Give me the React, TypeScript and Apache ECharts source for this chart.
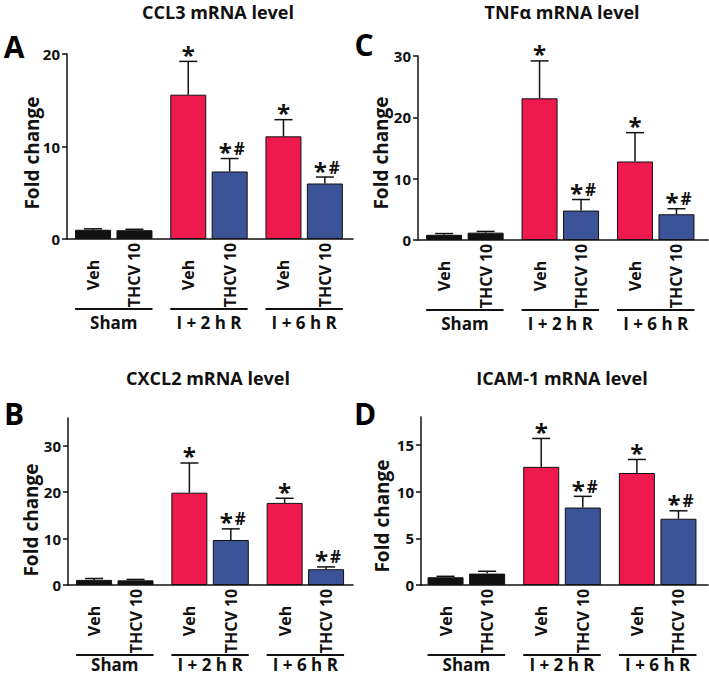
import React, { useEffect, useRef } from "react";
import * as echarts from "echarts";

const categories = ["Veh", "THCV 10", "Veh", "THCV 10", "Veh", "THCV 10"];
const groups = ["Sham", "I + 2 h R", "I + 6 h R"];
const xPos = [0, 1, 2.3, 3.3, 4.6, 5.6];
const marks = ["", "", "*", "*#", "*", "*#"];

const ccl3Mean = [1.0, 0.95, 15.6, 7.3, 11.1, 6.0];
const ccl3Err = [1.1, 1.05, 19.2, 8.7, 12.9, 6.7];
const tnfMean = [0.85, 1.2, 23.1, 4.8, 12.8, 4.2];
const tnfErr = [1.05, 1.4, 29.2, 6.6, 17.5, 5.1];
const cxcl2Mean = [1.1, 1.0, 19.9, 9.7, 17.7, 3.4];
const cxcl2Err = [1.4, 1.2, 26.3, 12.1, 18.7, 3.9];
const icamMean = [0.83, 1.22, 12.66, 8.3, 12.0, 7.1];
const icamErr = [0.93, 1.47, 15.7, 9.5, 13.45, 7.95];

const ccl3Ticks = [0, 10, 20];
const tnfTicks = [0, 10, 20, 30];
const cxcl2Ticks = [0, 10, 20, 30];
const icamTicks = [0, 5, 10, 15];

const barColors = ["#111111", "#111111", "#EE1A4E", "#3C5398", "#EE1A4E", "#3C5398"];
const FONT = "Open Sans";

const panels = [
  { letter: "A", title: "CCL3 mRNA level", mean: ccl3Mean, err: ccl3Err, ticks: ccl3Ticks, max: 20,
    grid: { left: 67, top: 54, width: 286, height: 185 }, xMin: -0.63, xMax: 6.28, groupDy: 83,
    titlePos: [218, 12], letterPos: [14, 46], namePos: [32, 153] },
  { letter: "C", title: "TNFα mRNA level", mean: tnfMean, err: tnfErr, ticks: tnfTicks, max: 30,
    grid: { left: 418, top: 56, width: 290, height: 184 }, xMin: -0.63, xMax: 6.36, groupDy: 83,
    titlePos: [562, 12], letterPos: [364, 44], namePos: [381, 153] },
  { letter: "B", title: "CXCL2 mRNA level", mean: cxcl2Mean, err: cxcl2Err, ticks: cxcl2Ticks, max: 36,
    grid: { left: 68, top: 418, width: 285, height: 167 }, xMin: -0.63, xMax: 6.25, groupDy: 79,
    titlePos: [208, 378], letterPos: [14, 413], namePos: [31, 520] },
  { letter: "D", title: "ICAM-1 mRNA level", mean: icamMean, err: icamErr, ticks: icamTicks, max: 18,
    grid: { left: 421, top: 417, width: 287, height: 168 }, xMin: -0.59, xMax: 6.31, groupDy: 79,
    titlePos: [562, 378], letterPos: [365, 413], namePos: [382, 516] },
];

export default function App() {
  const ref = useRef<HTMLDivElement>(null);
  useEffect(() => {
    document.body.style.margin = "0";
    const chart = echarts.init(ref.current!, null, { renderer: "svg" });
    const grids: any[] = [];
    const xAxes: any[] = [];
    const yAxes: any[] = [];
    const series: any[] = [];
    const graphics: any[] = [];

    panels.forEach((p, i) => {
      grids.push({ ...p.grid });
      xAxes.push({
        type: "value", gridIndex: i, min: p.xMin, max: p.xMax,
        axisLine: { show: true, onZero: false, lineStyle: { color: "#111", width: 1.6 } },
        axisTick: { show: false }, axisLabel: { show: false }, splitLine: { show: false },
      });
      yAxes.push({
        type: "value", gridIndex: i, min: 0, max: p.max,
        axisLine: { show: true, onZero: false, lineStyle: { color: "#111", width: 1.5 } },
        axisTick: { show: true, length: 5, customValues: p.ticks, lineStyle: { color: "#111", width: 1.5 } },
        axisLabel: { customValues: p.ticks, color: "#111", fontFamily: FONT, fontWeight: "bold", fontSize: 15, margin: 7 },
        splitLine: { show: false },
      });
      series.push({
        type: "bar", xAxisIndex: i, yAxisIndex: i, barWidth: 36,
        data: p.mean.map((v, k) => ({
          value: [xPos[k], v],
          itemStyle: { color: barColors[k], borderColor: "#111", borderWidth: 1 },
        })),
      });
      series.push({
        type: "custom", xAxisIndex: i, yAxisIndex: i, z: 5,
        data: p.mean.map((v, k) => [xPos[k], v, p.err[k], k]),
        renderItem: (params: any, api: any) => {
          const a = api.coord([api.value(0), api.value(1)]);
          const b = api.coord([api.value(0), api.value(2)]);
          const k = api.value(3);
          const children: any[] = [
            { type: "line", shape: { x1: a[0], y1: a[1], x2: b[0], y2: b[1] }, style: { stroke: "#111", lineWidth: 1.5 } },
            { type: "line", shape: { x1: b[0] - 9, y1: b[1], x2: b[0] + 9, y2: b[1] }, style: { stroke: "#111", lineWidth: 1.5 } },
          ];
          const m = marks[k];
          if (m) {
            const twin = m.length > 1;
            children.push({
              type: "text", x: b[0] + (twin ? -4.5 : 0), y: b[1] - 7,
              style: { text: m[0], fill: "#111", font: `bold 24px '${FONT}'`, align: "center", verticalAlign: "middle" },
            });
            if (twin) {
              children.push({
                type: "text", x: b[0] + 9.5, y: b[1] - 10,
                style: { text: m[1], fill: "#111", font: `bold 17px '${FONT}'`, align: "center", verticalAlign: "middle" },
              });
            }
          }
          return { type: "group", children };
        },
      });
      series.push({
        type: "custom", xAxisIndex: i, yAxisIndex: i, z: 5,
        data: xPos.map((x, k) => [x, k]),
        renderItem: (params: any, api: any) => {
          const a = api.coord([api.value(0), 0]);
          const k = api.value(1);
          return {
            type: "text", x: a[0], y: a[1] + 36, rotation: Math.PI / 2,
            style: { text: categories[k], fill: "#111", font: `bold 16px '${FONT}'`, align: "center", verticalAlign: "middle" },
          };
        },
      });
      series.push({
        type: "custom", xAxisIndex: i, yAxisIndex: i, z: 5,
        data: groups.map((g, k) => [xPos[2 * k], xPos[2 * k + 1], k]),
        renderItem: (params: any, api: any) => {
          const a = api.coord([api.value(0), 0]);
          const b = api.coord([api.value(1), 0]);
          const k = api.value(2);
          return {
            type: "group",
            children: [
              { type: "line", shape: { x1: a[0] - 18, y1: a[1] + 70, x2: b[0] + 18, y2: b[1] + 70 }, style: { stroke: "#111", lineWidth: 2 } },
              { type: "text", x: (a[0] + b[0]) / 2, y: a[1] + p.groupDy,
                style: { text: groups[k], fill: "#111", font: `bold 17px '${FONT}'`, align: "center", verticalAlign: "middle" } },
            ],
          };
        },
      });
      graphics.push({
        type: "text", x: p.titlePos[0], y: p.titlePos[1],
        style: { text: p.title, fill: "#111", font: `bold 18px '${FONT}'`, textAlign: "center", textVerticalAlign: "middle" },
      });
      graphics.push({
        type: "text", x: p.letterPos[0], y: p.letterPos[1],
        style: { text: p.letter, fill: "#000", font: `bold 30px '${FONT}'`, textAlign: "center", textVerticalAlign: "middle" },
      });
      graphics.push({
        type: "text", x: p.namePos[0], y: p.namePos[1], rotation: Math.PI / 2,
        style: { text: "Fold change", fill: "#111", font: `bold 19px '${FONT}'`, textAlign: "center", textVerticalAlign: "middle" },
      });
    });

    chart.setOption({
      animation: false,
      backgroundColor: "#fff",
      grid: grids,
      xAxis: xAxes,
      yAxis: yAxes,
      series,
      graphic: graphics,
    });
    return () => chart.dispose();
  }, []);
  return <div ref={ref} style={{ width: 709, height: 675 }} />;
}
